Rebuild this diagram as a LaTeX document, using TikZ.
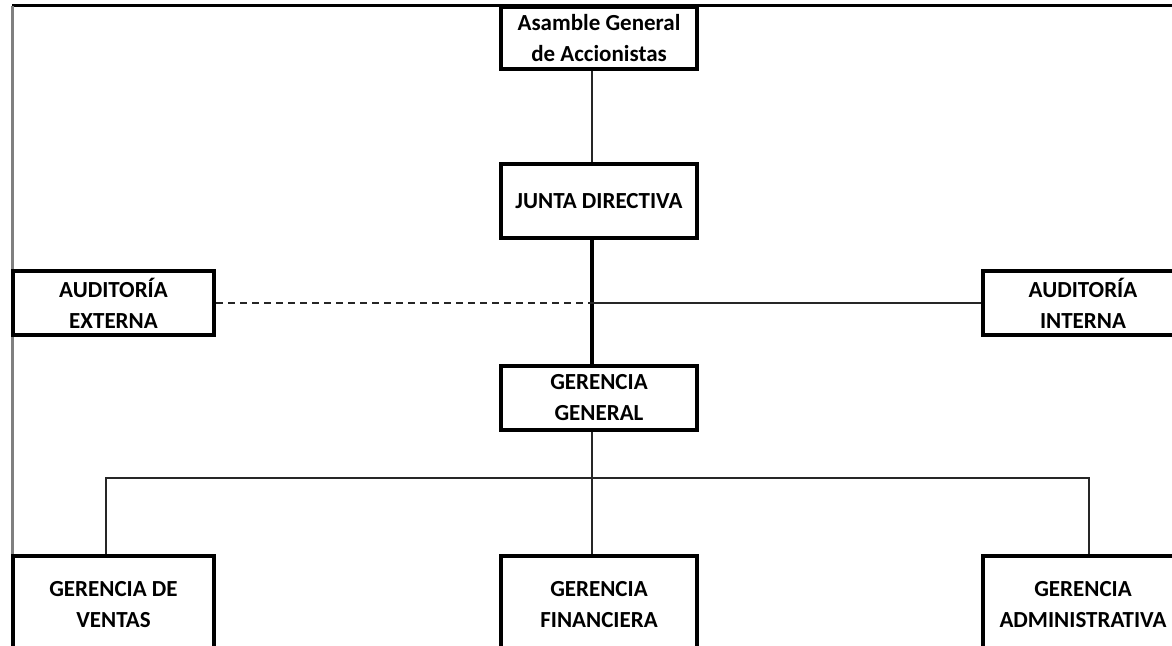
\documentclass[tikz,border=0pt]{standalone}
\usepackage{fontspec}
\setmainfont{Carlito}
\usepackage{tikz}
\usetikzlibrary{positioning}

\begin{document}
\begin{tikzpicture}[x=0.5pt, y=-0.5pt, every node/.style={align=center},
    unidad/.style={draw, line width=2pt, fill=white, inner sep=0pt,
      font=\bfseries\fontsize{11.5}{15.5}\selectfont},
    centro/.style={unidad, minimum width=98pt},
    lado/.style={unidad, minimum width=100.5pt},
    enlace/.style={line width=0.8pt, draw=black!85}]
  \useasboundingbox (0,0) rectangle (1172,646);
  \clip (0,0) rectangle (1172,646);
  % marco de la hoja
  \draw[line width=1.5pt] (12,6) -- (1172,6);
  \draw[line width=1.5pt, gray] (12,6) -- (12,646);

  % ejes de conexion
  \coordinate (eje) at (592,0);
  \coordinate (izq) at (106,478);
  \coordinate (der) at (1089,478);

  % cajas
  \node[centro, minimum height=31pt] (asamblea) at (599,38) {Asamble General\\de Accionistas};
  \node[centro, minimum height=37pt] (junta) at (599,201) {JUNTA DIRECTIVA};
  \node[lado, minimum height=32pt] (externa) at (113.5,303) {AUDITORÍA\\EXTERNA};
  \node[lado, minimum height=32pt] (interna) at (1083,303) {AUDITORÍA\\INTERNA};
  \node[centro, minimum height=32pt] (gerencia) at (599,398) {GERENCIA\\GENERAL};
  \node[lado, minimum height=49pt] (ventas) at (113.5,605) {GERENCIA DE\\VENTAS};
  \node[centro, minimum height=49pt] (financiera) at (599,605) {GERENCIA\\FINANCIERA};
  \node[lado, minimum height=49pt] (admin) at (1083,605) {GERENCIA\\ADMINISTRATIVA};

  % lineas
  \draw[enlace] (asamblea.south -| eje) -- (junta.north -| eje);
  \draw[line width=2pt] (junta.south -| eje) -- (gerencia.north -| eje);
  \draw[enlace, dash pattern=on 3.5pt off 2.5pt] (externa.east) -- (externa.east -| eje);
  \draw[enlace] (externa.east -| eje) -- (interna.west);
  \draw[enlace] (gerencia.south -| eje) -- (izq -| eje);
  \draw[enlace] (izq |- ventas.north) -- (izq) -- (der) -- (der |- admin.north);
  \draw[enlace] (izq -| eje) -- (financiera.north -| eje);
\end{tikzpicture}
\end{document}
